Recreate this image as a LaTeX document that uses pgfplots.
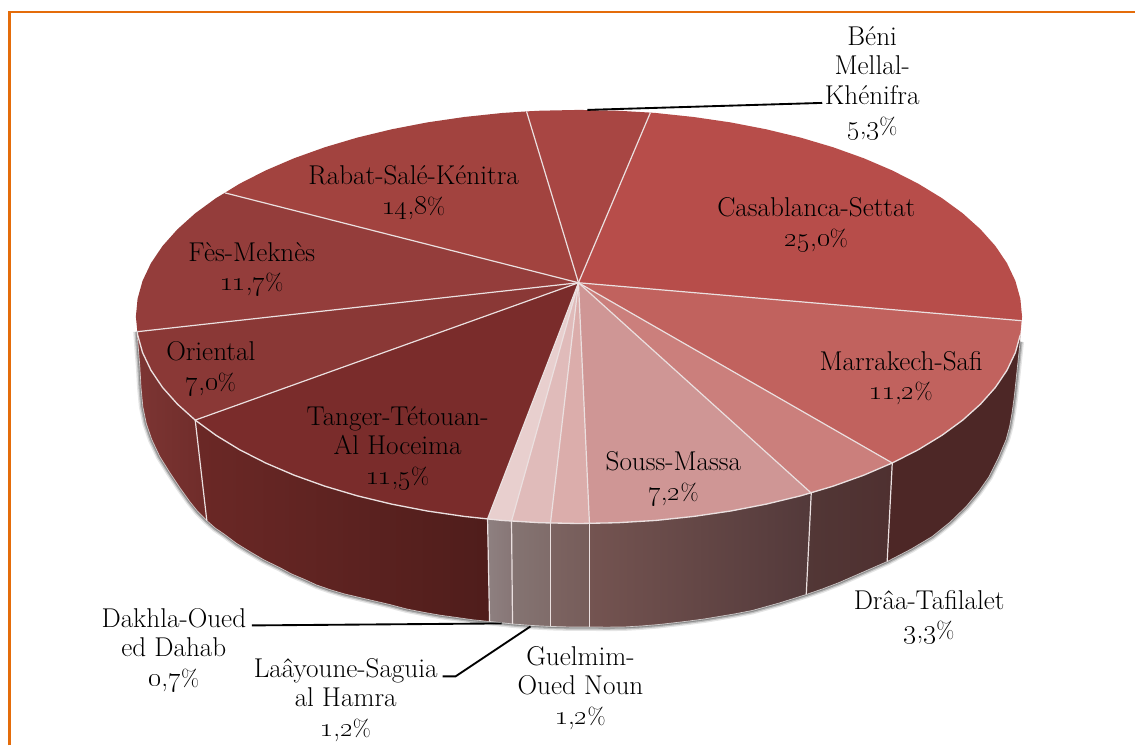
\documentclass[border=0pt]{standalone}
\usepackage{pgfplots}
\pgfplotsset{compat=1.18}
\usepackage{pgfplotstable}
\definecolor{frame}{HTML}{E46C0A}
\definecolor{sep}{HTML}{EBE0E0}
\definecolor{cCasa}{HTML}{B74D4A}
\definecolor{cMarr}{HTML}{C1625E}
\definecolor{cDraa}{HTML}{CB7F7C}
\definecolor{cSous}{HTML}{CF9695}
\definecolor{cGuel}{HTML}{DBADAB}
\definecolor{cLaay}{HTML}{E0BBBA}
\definecolor{cDakh}{HTML}{E8CFCE}
\definecolor{cTang}{HTML}{7A2C2B}
\definecolor{cOrie}{HTML}{8A3836}
\definecolor{cFes}{HTML}{943D3B}
\definecolor{cRaba}{HTML}{A2433F}
\definecolor{cBeni}{HTML}{A84643}
\definecolor{sOa}{HTML}{7C3533}\definecolor{sOb}{HTML}{6F2C2A}
\definecolor{sTa}{HTML}{6B2826}\definecolor{sTb}{HTML}{4F1D1B}
\definecolor{sDa}{HTML}{8E8080}\definecolor{sDb}{HTML}{877676}
\definecolor{sLa}{HTML}{847472}\definecolor{sLb}{HTML}{806C6A}
\definecolor{sGa}{HTML}{7C6361}\definecolor{sGb}{HTML}{765D5A}
\definecolor{sSa}{HTML}{745451}\definecolor{sSb}{HTML}{53393A}
\definecolor{sRa}{HTML}{523736}\definecolor{sRb}{HTML}{4F3030}
\definecolor{sMa}{HTML}{4D2726}
\newcommand{\pc}[2]{{\fontsize{21}{22.2}\selectfont\oldstylenums{#1}},{\fontsize{21}{22.2}\selectfont\oldstylenums{#2}}{\fontsize{17.5}{22.2}\selectfont\%}}
\tikzset{lab/.style={align=center, inner sep=0pt, font=\fontsize{20.4}{22.2}\selectfont, text=black}}
\pgfplotstableread{
x y
137.3 332
138.6 350
140 367
141.2 388
143 407
146.5 424
152 440
160 457
170 473
180 488
190 502
198 512
207 521
215.5 528.5
225 535
237 544
250 552
264.5 560.5
280 568
292 574.5
305 580
317 585.5
330 590
345 594.5
360 598
375 601.5
390 605
407 609.5
425 613
441 615.8
457 618
473 620.3
490 622
513 624.5
532 626
551 627
570 627.5
590 627.5
607 627.7
625 627.5
642 626.5
660 625
675 623.3
690 621.5
705 619.5
720 617
736 614.3
753 611
780 603.5
807 595
823 589.5
840 583
864 572.5
888 562
912 549.5
933 537
951 522.5
967 507
979.5 492
990 477
999 459
1007 440
1010.5 427
1013 413
1015.2 397
1017 380
1019 361
1021 342
}\outline
\pgfplotstableread{
x y
137.5 332
137.7 335
142.7 352.9
151.1 370.6
162.7 387.8
177.6 404.5
195.4 420.5
216.2 435.7
239.8 450.1
265.9 463.4
294.4 475.6
325.1 486.6
357.7 496.3
392.1 504.6
427.8 511.5
464.7 516.9
502.5 520.9
540.8 523.2
579.5 524
618.2 523.2
656.5 520.9
694.3 516.9
731.2 511.5
766.9 504.6
801.3 496.3
833.9 486.6
864.6 475.6
893.1 463.4
919.2 450.1
942.8 435.7
963.6 420.5
981.4 404.5
996.3 387.8
1007.9 370.6
1016.3 352.9
1021.3 335
}\rim
\begin{document}
\begin{tikzpicture}
\begin{axis}[
  hide axis, scale only axis, width=852pt, height=559.5pt,
  xmin=0, xmax=1136, ymin=0, ymax=746, y dir=reverse, clip=false,
  every axis plot/.append style={no markers},
]
\path (rel axis cs:0,0) rectangle (rel axis cs:1,1);
% frame
\addplot[frame, line width=1.6pt] coordinates {(9.5,746) (9.5,12) (1136,12)};
% soft shadow
\addplot[black, opacity=.10, line width=6pt, line join=round] table {\outline};
\addplot[black, opacity=.18, line width=4pt, line join=round] table {\outline};
\addplot[black, opacity=.25, line width=2.2pt, line join=round] table {\outline};
% side walls
\addplot[draw=none, left color=sOa, right color=sOb] coordinates {(137.5,332) (137.7,335) (142.7,352.9) (151.1,370.6) (162.7,387.8) (177.6,404.5) (195.4,420.5) (207,521) (198,512) (190,502) (180,488) (170,473) (160,457) (152,440) (146.5,424) (143,407) (141.2,388) (140,367) (138.6,350) (137.3,332)} --cycle;
\addplot[draw=none, left color=sTa, right color=sTb] coordinates {(195.4,420.5) (216.2,435.7) (239.8,450.1) (265.9,463.4) (294.4,475.6) (325.1,486.6) (357.7,496.3) (392.1,504.6) (427.8,511.5) (464.7,516.9) (488,519.5) (490,622) (473,620.3) (457,618) (441,615.8) (425,613) (407,609.5) (390,605) (375,601.5) (360,598) (345,594.5) (330,590) (317,585.5) (305,580) (292,574.5) (280,568) (264.5,560.5) (250,552) (237,544) (225,535) (215.5,528.5) (207,521)} --cycle;
\addplot[draw=none, left color=sDa, right color=sDb] coordinates {(488,519.5) (502.5,520.9) (512,521.6) (513,624.5) (490,622)} --cycle;
\addplot[draw=none, left color=sLa, right color=sLb] coordinates {(512,521.6) (540.8,523.2) (551,523.5) (551,627) (532,626) (513,624.5)} --cycle;
\addplot[draw=none, left color=sGa, right color=sGb] coordinates {(551,523.5) (579.5,524) (590,523.9) (590,627.5) (570,627.5) (551,627)} --cycle;
\addplot[draw=none, left color=sSa, right color=sSb] coordinates {(590,523.9) (618.2,523.2) (656.5,520.9) (694.3,516.9) (731.2,511.5) (766.9,504.6) (801.3,496.3) (812,493.5) (807,595) (780,603.5) (753,611) (736,614.3) (720,617) (705,619.5) (690,621.5) (675,623.3) (660,625) (642,626.5) (625,627.5) (607,627.7) (590,627.5)} --cycle;
\addplot[draw=none, left color=sRa, right color=sRb] coordinates {(812,493.5) (833.9,486.6) (864.6,475.6) (893.1,463.4) (888,562) (864,572.5) (840,583) (823,589.5) (807,595)} --cycle;
\addplot[draw=none, fill=sMa] coordinates {(893.1,463.4) (919.2,450.1) (942.8,435.7) (963.6,420.5) (981.4,404.5) (996.3,387.8) (1007.9,370.6) (1016.3,352.9) (1021.3,335) (1021,342) (1019,361) (1017,380) (1015.2,397) (1013,413) (1010.5,427) (1007,440) (999,459) (990,477) (979.5,492) (967,507) (951,522.5) (933,537) (912,549.5) (888,562)} --cycle;
% edge highlight along the foot of the wall
\addplot[white, opacity=.65, line width=.5pt] table {\outline};
% top faces
\addplot[draw=none, fill=cCasa] coordinates {(579,283) (651,112.7) (656.5,113.1) (694.3,117.1) (731.2,122.5) (766.9,129.4) (801.3,137.7) (833.9,147.4) (864.6,158.4) (893.1,170.6) (919.2,183.9) (942.8,198.3) (963.6,213.5) (981.4,229.5) (996.3,246.2) (1007.9,263.4) (1016.3,281.1) (1021.3,299) (1023,317) (1022.6,321)} --cycle;
\addplot[draw=none, fill=cMarr] coordinates {(579,283) (1022.6,321) (1021.3,335) (1016.3,352.9) (1007.9,370.6) (996.3,387.8) (981.4,404.5) (963.6,420.5) (942.8,435.7) (919.2,450.1) (893.1,463.4)} --cycle;
\addplot[draw=none, fill=cDraa] coordinates {(579,283) (893.1,463.4) (864.6,475.6) (833.9,486.6) (812,493.5)} --cycle;
\addplot[draw=none, fill=cSous] coordinates {(579,283) (812,493.5) (801.3,496.3) (766.9,504.6) (731.2,511.5) (694.3,516.9) (656.5,520.9) (618.2,523.2) (590,523.9)} --cycle;
\addplot[draw=none, fill=cGuel] coordinates {(579,283) (590,523.9) (579.5,524) (551,523.5)} --cycle;
\addplot[draw=none, fill=cLaay] coordinates {(579,283) (551,523.5) (540.8,523.2) (512,521.6)} --cycle;
\addplot[draw=none, fill=cDakh] coordinates {(579,283) (512,521.6) (502.5,520.9) (488,519.5)} --cycle;
\addplot[draw=none, fill=cTang] coordinates {(579,283) (488,519.5) (464.7,516.9) (427.8,511.5) (392.1,504.6) (357.7,496.3) (325.1,486.6) (294.4,475.6) (265.9,463.4) (239.8,450.1) (216.2,435.7) (195.4,420.5)} --cycle;
\addplot[draw=none, fill=cOrie] coordinates {(579,283) (195.4,420.5) (177.6,404.5) (162.7,387.8) (151.1,370.6) (142.7,352.9) (137.7,335) (137.5,332)} --cycle;
\addplot[draw=none, fill=cFes] coordinates {(579,283) (137.5,332) (136,317) (137.7,299) (142.7,281.1) (151.1,263.4) (162.7,246.2) (177.6,229.5) (195.4,213.5) (216.2,198.3) (225,193)} --cycle;
\addplot[draw=none, fill=cRaba] coordinates {(579,283) (225,193) (239.8,183.9) (265.9,170.6) (294.4,158.4) (325.1,147.4) (357.7,137.7) (392.1,129.4) (427.8,122.5) (464.7,117.1) (502.5,113.1) (527,111.5)} --cycle;
\addplot[draw=none, fill=cBeni] coordinates {(579,283) (527,111.5) (540.8,110.8) (579.5,110) (618.2,110.8) (651,112.7)} --cycle;
% front rim
\addplot[sep, line width=1pt, line join=round] table {\rim};
% separators on the top
\addplot[sep, line width=.9pt] coordinates {(579,283) (651,112.7)};
\addplot[sep, line width=.9pt] coordinates {(579,283) (1022.6,321)};
\addplot[sep, line width=.9pt] coordinates {(579,283) (893.1,463.4)};
\addplot[sep, line width=.9pt] coordinates {(579,283) (812,493.5)};
\addplot[sep, line width=.9pt] coordinates {(579,283) (590,523.9)};
\addplot[sep, line width=.9pt] coordinates {(579,283) (551,523.5)};
\addplot[sep, line width=.9pt] coordinates {(579,283) (512,521.6)};
\addplot[sep, line width=.9pt] coordinates {(579,283) (488,519.5)};
\addplot[sep, line width=.9pt] coordinates {(579,283) (195.4,420.5)};
\addplot[sep, line width=.9pt] coordinates {(579,283) (137.5,332)};
\addplot[sep, line width=.9pt] coordinates {(579,283) (225,193)};
\addplot[sep, line width=.9pt] coordinates {(579,283) (527,111.5)};
% separators on the wall
\addplot[sep, line width=.9pt] coordinates {(195.4,420.5) (207,521)};
\addplot[sep, line width=.9pt] coordinates {(488,519.5) (490,622)};
\addplot[sep, line width=.9pt] coordinates {(512,521.6) (513,624.5)};
\addplot[sep, line width=.9pt] coordinates {(551,523.5) (551,627)};
\addplot[sep, line width=.9pt] coordinates {(590,523.9) (590,627.5)};
\addplot[sep, line width=.9pt] coordinates {(812,493.5) (807,595)};
\addplot[sep, line width=.9pt] coordinates {(893.1,463.4) (888,562)};
% leader lines
\addplot[black, line width=1.4pt] coordinates {(823,103) (588,110)};
\addplot[black, line width=1.4pt] coordinates {(252,626) (502,624)};
\addplot[black, line width=1.4pt] coordinates {(443,677) (456,677) (531,627)};
% labels
\node[lab] at (axis cs:873,83) {Béni\\Mellal-\\Khénifra\\\pc{5}{3}};
\node[lab] at (axis cs:817,225) {Casablanca-Settat\\\pc{25}{0}};
\node[lab] at (axis cs:414,193) {Rabat-Salé-Kénitra\\\pc{14}{8}};
\node[lab] at (axis cs:252,269.5) {Fès-Meknès\\\pc{11}{7}};
\node[lab] at (axis cs:211,369) {Oriental\\\pc{7}{0}};
\node[lab] at (axis cs:398,448.5) {Tanger-Tétouan-\\Al Hoceima\\\pc{11}{5}};
\node[lab] at (axis cs:902,378.5) {Marrakech-Safi\\\pc{11}{2}};
\node[lab] at (axis cs:674,479) {Souss-Massa\\\pc{7}{2}};
\node[lab] at (axis cs:930,617.5) {Drâa-Tafilalet\\\pc{3}{3}};
\node[lab] at (axis cs:581,688.5) {Guelmim-\\Oued Noun\\\pc{1}{2}};
\node[lab] at (axis cs:346,700.5) {Laâyoune-Saguia\\al Hamra\\\pc{1}{2}};
\node[lab] at (axis cs:174,650.5) {Dakhla-Oued\\ed Dahab\\\pc{0}{7}};
\end{axis}
\end{tikzpicture}
\end{document}
